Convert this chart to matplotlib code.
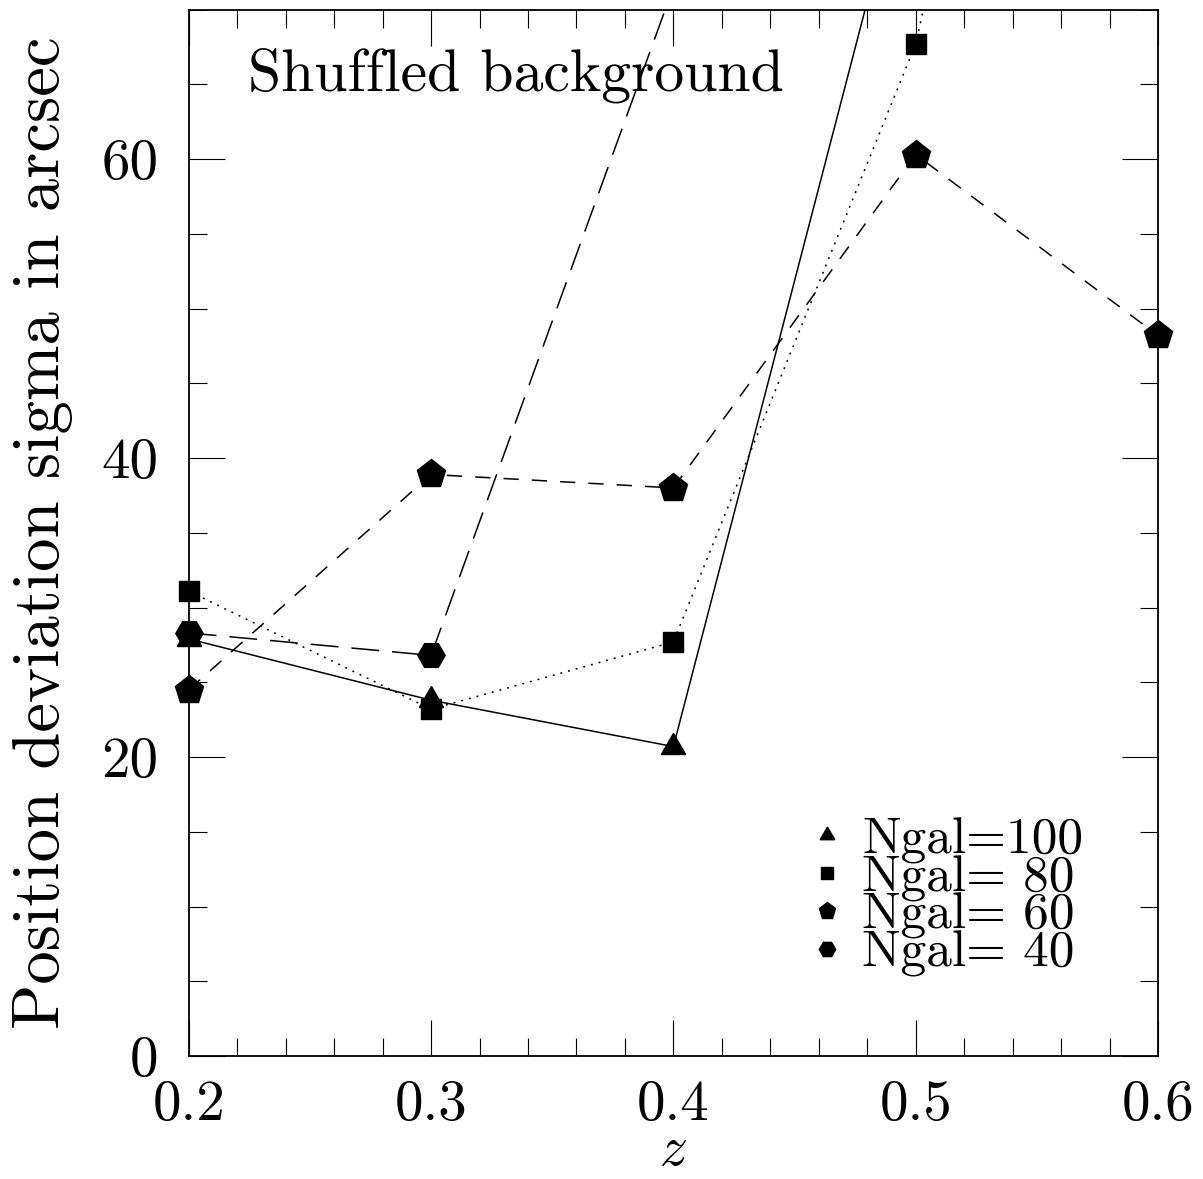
import matplotlib
matplotlib.use("Agg")
import matplotlib.pyplot as plt
import numpy as np
from matplotlib.ticker import MultipleLocator, FormatStrFormatter

plt.rcParams['font.family'] = 'cmr10'
plt.rcParams['mathtext.fontset'] = 'cm'
plt.rcParams['axes.unicode_minus'] = False
plt.rcParams['lines.scale_dashes'] = False

# redshift bins
z = [0.2, 0.3, 0.4, 0.5, 0.6]

# position deviation sigma (arcsec) for each galaxy count
ngal100 = [27.9, 23.8, 20.7, 83.0]
ngal80 = [31.1, 23.2, 27.7, 67.7, 140.0]
ngal60 = [24.5, 38.9, 38.0, 60.3, 48.2]
ngal40 = [28.3, 26.8, 71.5]

labels = ['Ngal=100', 'Ngal= 80', 'Ngal= 60', 'Ngal= 40']

ymax = 70

fig = plt.figure(figsize=(12.03, 11.79), dpi=100)
ax = fig.add_axes([0.1569, 0.1043, 0.8057, 0.8876])

series = [
    (ngal100, '-', (3, 0, 0), 20.2),
    (ngal80, (0, (1.4, 4.3)), 's', 14.9),
    (ngal60, (0, (11, 9.4)), 'p', 20.9),
    (ngal40, (0, (20, 9.4)), 'H', 19.7),
]

for (vals, ls, mk, ms), lab in zip(series, labels):
    xs = z[:len(vals)]
    # connecting line, clipped to the frame
    ax.plot(xs, vals, color='black', lw=1.1, ls=ls)
    # symbols drawn unclipped so the edge points show whole,
    # points above the plotted range are left out
    shown = np.ma.masked_greater(vals, ymax)
    ax.plot(xs, shown, color='black', ls='none', marker=mk, ms=ms,
            clip_on=False, label=lab)

ax.set_xlim(0.2, 0.6)
ax.set_ylim(0, ymax)
ax.xaxis.set_major_locator(MultipleLocator(0.1))
ax.xaxis.set_minor_locator(MultipleLocator(0.02))
ax.yaxis.set_major_locator(MultipleLocator(20))
ax.yaxis.set_minor_locator(MultipleLocator(5))
ax.xaxis.set_major_formatter(FormatStrFormatter('%.1f'))

ax.tick_params(which='both', direction='in', top=True, right=True, width=0.8,
               labelsize=41)
ax.tick_params(which='major', length=26)
ax.tick_params(which='minor', length=12.7)
ax.tick_params(axis='x', pad=17)
ax.tick_params(axis='y', pad=22)
for s in ax.spines.values():
    s.set_linewidth(1.3)

ax.set_xlabel('$z$', fontsize=40, labelpad=-3)
ax.set_ylabel('Position deviation sigma in arcsec', fontsize=48, labelpad=20)

ax.text(0.061, 0.923, 'Shuffled background', transform=ax.transAxes,
        fontsize=43, va='baseline', ha='left')

ax.legend(loc='upper left', bbox_to_anchor=(0.658, 0.228), frameon=False,
          fontsize=37, handlelength=0, handletextpad=0.7, markerscale=0.6,
          labelspacing=-0.17, borderpad=0, borderaxespad=0)

fig.savefig('out.png', dpi=100)
